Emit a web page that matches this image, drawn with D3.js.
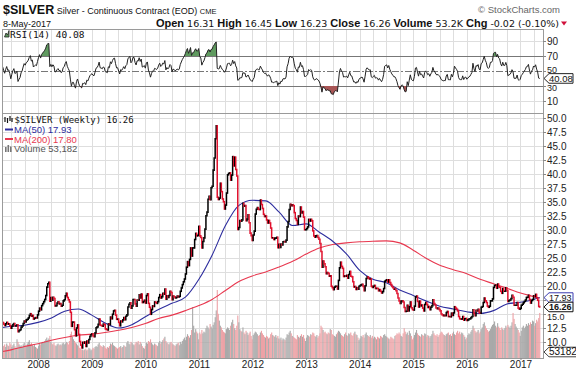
<!DOCTYPE html>
<html>
<head>
<meta charset="utf-8">
<script src="https://cdn.jsdelivr.net/npm/d3@7"></script>
<style>
body { margin: 0; background: #fff; }
svg { display: block; }
</style>
</head>
<body>
<div id="chart"></div>
<script>
// weekly closes (Friday), May 2007 .. May 2017
const closeHistory = [12.95, 13.05, 13.25, 13.40, 13.75, 13.90, 14.20, 14.15, 13.20, 13.05, 13.25, 13.30, 13.35, 13.60, 13.85, 13.75, 13.55];
const close2007 = [13.45,13.20,12.95,13.25, 13.50,13.20,13.25,12.95,12.45, 12.80,13.10,13.30,12.85, 12.90,13.05,11.85,12.05,12.20, 12.65,12.85,13.30,13.75, 13.60,13.95,14.05,14.30, 14.75,15.05,14.60,14.75,14.10, 14.25,14.35,14.30,14.85];
const close2008 = [15.50,16.05,15.75,16.50, 16.85,17.20,17.60,18.30,19.80, 20.40,20.65,17.30,17.95, 17.45,18.00,17.75,16.45, 16.50,16.95,17.20,16.80,16.85, 16.40,16.55,17.35,17.55, 18.25,18.70,17.95,17.55, 17.15,15.30,12.80,13.55,13.55, 12.20,11.10,12.50,13.05, 11.35,10.10,9.45,8.95,9.95, 9.80,10.00,9.20,10.15, 9.85,10.45,11.00,11.30];
const close2009 = [11.45,11.10,10.95,11.65,12.55, 12.70,13.15,14.10,13.00, 12.95,12.80,13.20,13.10, 12.35,12.25,12.15,13.25, 13.10,14.45,14.15,14.95,15.55, 15.65,14.80,14.05,14.10, 13.50,12.90,13.75,13.60,13.95, 14.35,14.00,14.60,14.85, 16.25,16.75,17.00,16.05, 16.45,17.60,17.60,16.80,16.40, 17.50,17.45,18.45,17.85, 18.55,17.05,17.20,17.45];
const close2010 = [16.95,18.30,18.60,16.90,16.20, 14.95,15.80,16.45,16.35, 17.15,17.05,16.90,17.20, 17.95,18.45,17.85,18.10,18.70, 18.55,19.45,17.65,18.25, 17.95,18.30,19.05,18.85, 17.55,18.20,18.05,17.85,17.95, 18.20,18.05,18.15,19.05, 19.65,20.25,20.75,21.25, 22.15,23.35,24.35,23.65,24.75, 26.80,25.35,26.80,26.80, 28.30,29.40,28.95,29.05,30.65];
const close2011 = [28.95,28.65,26.80,27.95, 28.60,30.15,32.55,33.20, 35.50,36.00,35.40,37.55, 37.80,40.70,42.85,46.30,48.60, 35.85,35.45,35.70,38.35, 36.85,35.55,35.05,33.75, 34.45,36.60,39.85,40.10,40.20, 38.90,39.80,43.10,41.45, 43.00,40.80,39.65,30.10,30.45, 31.70,31.55,31.80,34.75, 34.25,34.35,31.65,31.95, 32.70,31.30,29.45,29.00,28.15];
const close2012 = [29.10,29.80,32.85,33.70, 34.00,33.70,33.65,35.35, 34.55,33.85,32.80,32.40,32.50, 31.80,31.25,31.70,31.25, 30.35,28.60,28.60,28.30, 28.55,28.55,28.70,26.85,27.45, 26.90,27.50,27.35,27.90, 27.95,27.85,28.20,30.55,31.50, 33.65,34.60,34.35,34.50, 34.35,33.10,32.05,31.70, 31.00,32.50,32.40,34.10,33.05, 33.30,32.30,30.05,30.05];
const close2013 = [30.25,30.55,31.90,31.60, 31.90,31.65,29.85,28.95, 28.70,28.95,29.00,28.65,28.35, 27.60,26.15,23.35,24.45, 23.95,23.45,22.20,22.40,22.25, 21.75,21.80,19.95,19.70, 19.35,19.80,19.95,19.95, 19.45,21.00,23.25,24.25,23.50, 23.15,21.70,21.80,21.75, 21.90,21.40,22.05,22.60, 21.75,21.65,20.75,19.85,19.90, 19.40,19.70,19.45,19.95];
const close2014 = [20.10,20.20,20.30,19.90,19.15, 20.05,21.35,21.65,21.40, 21.25,21.30,19.95,19.75, 19.95,20.10,19.55,19.60, 19.55,19.15,19.35,19.05,18.75, 19.00,19.55,20.85,21.00, 21.10,20.70,21.10,20.60, 20.25,19.90,19.70,19.45,19.45, 19.15,18.65,17.85,17.35, 16.90,17.25,17.35,17.15,16.15, 15.45,15.50,16.55,15.55, 16.30,17.15,16.10,15.80];
const close2015 = [15.70,16.40,18.05,18.20,17.25, 16.25,17.30,16.45,16.60, 16.05,15.55,16.70,17.05, 16.70,16.15,16.35,15.75, 16.20,16.50,17.55,16.85,16.60, 16.10,15.95,16.05,15.80, 15.55,15.00,14.85,14.70,14.75, 14.70,15.25,15.45,14.55, 14.55,14.50,15.15,14.75, 15.20,16.30,16.05,15.85,15.55, 14.55,14.15,14.10,14.10, 14.55,13.90,14.15,14.20];
const close2016 = [13.85,13.95,14.10,14.15,14.35, 14.55,15.75,15.10,14.70, 15.65,15.55,15.85,15.25, 15.15,16.20,16.35,17.05,17.85, 17.35,17.05,16.40,16.20, 16.40,17.35,17.35,17.70, 19.75,20.10,20.15,19.60,20.35, 19.85,19.75,19.05,18.70, 19.55,19.05,19.05,19.70,19.20, 17.25,17.40,17.50,17.75, 18.35,18.00,16.55,16.55, 16.55,17.05,16.05,15.85,16.00];
const close2017 = [16.55,16.75,17.00,17.25, 17.50,17.95,18.00,18.35, 17.60,16.95,17.40,17.60,18.25, 18.10,18.50,17.90,17.45, 16.34,16.26];

// weekly volume (thousands)
const vol2007 = [15,14,16,13,17,15,14,18,16,13,15,17,14,12,22,19,16,14,15,13,16,18,15,14,17,19,21,16,18,15,14,16,13,12,11];
const vol2008 = [14,17,16,18,19,18,20,22,24,21,23,26,19,17,16,18,15,14,16,17,15,16,15,17,18,16,17,19,18,16,20,28,31,25,22,20,18,17,15,14,12,11,10,10,9,10,11,9,10,12,11,9];
const vol2009 = [10,12,11,13,14,13,16,18,15,14,13,15,14,12,11,13,12,14,17,16,18,15,14,13,12,11,12,13,14,12,13,15,14,13,18,20,17,16,19,18,16,15,17,19,18,20,16,19,17,14,12,11];
const vol2010 = [14,18,17,20,19,22,18,16,15,17,16,15,14,18,20,17,19,21,23,25,20,18,17,16,18,19,17,16,15,14,16,17,18,15,19,17,20,22,24,21,25,28,26,24,27,33,60,38,30,34,31,29,22];
const vol2011 = [30,28,33,29,31,30,35,38,36,34,40,37,35,39,42,48,56,80,52,44,38,36,33,31,30,29,34,36,35,33,38,42,45,40,35,33,38,50,42,34,32,31,36,30,28,32,30,27,29,31,26,22];
const vol2012 = [27,29,31,30,28,26,27,30,32,29,27,25,24,26,25,23,24,28,30,27,26,25,27,24,26,23,22,24,21,23,22,21,24,28,27,30,32,29,26,25,24,23,22,27,25,24,26,28,25,27,23,20];
const vol2013 = [24,27,26,25,28,27,30,29,26,25,27,24,26,29,38,36,33,30,31,29,28,30,29,34,33,28,27,26,25,28,30,32,31,29,27,26,25,28,30,27,26,29,28,30,27,26,29,31,28,27,24,21];
const vol2014 = [23,26,25,27,24,28,30,27,26,25,27,24,26,23,25,24,22,25,24,23,26,25,24,27,28,26,25,24,23,22,25,24,23,22,26,27,29,28,30,28,26,25,29,35,31,28,30,27,32,29,26,22];
const vol2015 = [24,27,30,33,29,27,26,25,28,27,26,29,28,25,27,26,24,26,28,32,29,27,26,28,25,27,29,31,30,28,27,26,28,29,30,27,28,26,29,31,28,27,30,32,29,31,28,30,29,27,25,22];
const vol2016 = [24,27,29,28,31,33,38,35,32,30,31,33,29,31,34,36,40,42,38,35,33,31,32,34,37,39,40,43,38,36,41,37,35,33,36,34,33,35,38,36,39,37,35,38,42,53,46,40,37,35,33,30,26];
const vol2017 = [32,36,38,35,37,40,38,41,39,42,40,44,43,38,41,45,43,47,53];

// moving averages at quarter points
const maDates = ["2007-05-04","2007-07-01","2007-10-01","2008-01-01","2008-04-01","2008-07-01","2008-10-01","2009-01-01","2009-04-01","2009-07-01","2009-10-01","2010-01-01","2010-04-01","2010-07-01","2010-10-01","2011-01-01","2011-04-01","2011-07-01","2011-10-01","2012-01-01","2012-04-01","2012-07-01","2012-10-01","2013-01-01","2013-04-01","2013-07-01","2013-10-01","2014-01-01","2014-04-01","2014-07-01","2014-10-01","2015-01-01","2015-04-01","2015-07-01","2015-10-01","2016-01-01","2016-04-01","2016-07-01","2016-10-01","2017-01-01","2017-04-01","2017-05-12"];
const ma50 = [12.6,12.8,13.0,13.5,14.3,15.5,15.9,14.8,13.4,12.5,13.1,14.5,15.8,16.9,18.0,21.2,25.5,30.8,34.4,35.3,35.2,33.2,30.8,31.1,29.6,28.0,25.8,22.8,21.2,20.6,19.3,18.3,17.3,16.4,15.9,15.4,15.1,15.6,16.8,17.1,17.6,17.93];
const ma200 = [8.3,8.6,9.2,9.7,10.3,10.8,11.2,11.4,11.7,12.1,12.6,13.3,14.2,14.8,15.6,16.5,17.6,19.2,20.8,21.8,22.5,23.4,24.4,25.7,26.8,27.4,27.7,27.9,28.0,28.05,27.7,26.4,24.9,23.7,22.9,22.2,21.2,20.4,19.6,18.75,18.1,17.80];

const priceTicks = [10, 12.5, 15, 17.5, 20, 22.5, 25, 27.5, 30, 32.5, 35, 37.5, 40, 42.5, 45, 47.5, 50];
const rsiTicks = [10, 30, 50, 70, 90];
const yearTicks = ["2008","2009","2010","2011","2012","2013","2014","2015","2016","2017"];
const quote = [["Open", "16.31"], ["High", "16.45"], ["Low", "16.23"], ["Close", "16.26"], ["Volume", "53.2K"], ["Chg", "-0.02 (-0.10%)"]];
const lastPrice = 16.26, lastMa50 = 17.93, lastRsi = 40.08;

const width = 576, height = 370;
const left = 2, right = 543;
const rsiTop = 29, rsiBottom = 113, mainTop = 113, mainBottom = 358;
const sans = "'Liberation Sans', Arial, sans-serif";
const wide = "'DejaVu Sans', Verdana, sans-serif";
const mono = "'DejaVu Sans Mono', monospace";

const closes = [].concat(close2007, close2008, close2009, close2010, close2011, close2012, close2013, close2014, close2015, close2016, close2017);
const volumes = [].concat(vol2007, vol2008, vol2009, vol2010, vol2011, vol2012, vol2013, vol2014, vol2015, vol2016, vol2017);
const weeks = d3.timeFriday.range(new Date(2007, 4, 4), new Date(2017, 4, 13));

const bars = closes.map((c, i) => {
    const open = i ? closes[i - 1] : closeHistory[closeHistory.length - 1];
    return {date: weeks[i], open: open, close: c, up: c >= open, volume: volumes[i]};
});

// RSI(14), Wilder smoothing
function rsi(values, n) {
    const out = [null];
    let gain = 0, loss = 0;
    for (let i = 1; i < values.length; i++) {
        const d = values[i] - values[i - 1];
        const g = Math.max(d, 0), l = Math.max(-d, 0);
        if (i <= n) { gain += g / n; loss += l / n; }
        else { gain = (gain * (n - 1) + g) / n; loss = (loss * (n - 1) + l) / n; }
        out.push(i >= n ? 100 - 100 / (1 + gain / loss) : null);
    }
    return out;
}
const rsiAll = rsi(closeHistory.concat(closes), 14);
const rsiData = rsiAll.slice(closeHistory.length).map((v, i) => ({date: weeks[i], value: v}));

const parse = d3.timeParse("%Y-%m-%d");
const maData = maDates.map((d, i) => ({date: parse(d), ma50: ma50[i], ma200: ma200[i]}));

const x = d3.scaleTime()
    .domain([new Date(2007, 3, 30), new Date(2017, 4, 14)])
    .range([left, 540]);
const y = d3.scaleLinear().domain([10, 50]).range([342, 118]);
const yRsi = d3.scaleLinear().domain([0, 100]).range([108.5, 33.5]);
const yVol = d3.scaleLinear().domain([0, 80]).range([mainBottom, 290]);

const svg = d3.select("#chart").append("svg")
    .attr("width", width)
    .attr("height", height)
    .attr("viewBox", [0, 0, width, height]);

const defs = svg.append("defs");
defs.append("clipPath").attr("id", "clipMain")
    .append("rect").attr("x", left).attr("y", mainTop).attr("width", right - left).attr("height", mainBottom - mainTop);
defs.append("clipPath").attr("id", "clipRsi")
    .append("rect").attr("x", left).attr("y", rsiTop).attr("width", right - left).attr("height", rsiBottom - rsiTop);
defs.append("clipPath").attr("id", "clipOver")
    .append("rect").attr("x", left).attr("y", rsiTop).attr("width", right - left).attr("height", yRsi(70) - rsiTop);
defs.append("clipPath").attr("id", "clipUnder")
    .append("rect").attr("x", left).attr("y", yRsi(30)).attr("width", right - left).attr("height", rsiBottom - yRsi(30));

// header
const head = svg.append("text").attr("x", 3).attr("y", 14).attr("font-family", sans).attr("fill", "#111");
head.append("tspan").attr("font-weight", "bold").attr("font-size", 12.5).text("$SILVER");
head.append("tspan").attr("font-size", 9).text(" Silver - Continuous Contract (EOD) ");
head.append("tspan").attr("font-size", 7.5).text("CME");

svg.append("text").attr("x", 560).attr("y", 13).attr("text-anchor", "end")
    .attr("font-family", sans).attr("font-size", 9.5).attr("fill", "#666")
    .text("\u00a9 StockCharts.com");

svg.append("text").attr("x", 3).attr("y", 26.5)
    .attr("font-family", sans).attr("font-size", 9).attr("fill", "#111")
    .text("8-May-2017");

const q = svg.append("text").attr("x", 559).attr("y", 26.5).attr("text-anchor", "end")
    .attr("font-family", wide).attr("font-size", 9.5).attr("fill", "#111");
quote.forEach(([k, v], i) => {
    q.append("tspan").attr("font-weight", "bold").attr("font-family", sans).attr("font-size", 11).text((i ? " " : "") + k);
    q.append("tspan").text(" " + v);
});
svg.append("path").attr("d", "M561,21.5 L567,21.5 L564,25.5 Z").attr("fill", "#d0103a");

// grid
const grid = svg.append("g").attr("shape-rendering", "crispEdges");
const quarters = d3.timeMonth.every(3).range(x.domain()[0], x.domain()[1]);
grid.selectAll("line.v").data(quarters).join("line")
    .attr("class", "v")
    .attr("x1", d => Math.round(x(d)) + 0.5).attr("x2", d => Math.round(x(d)) + 0.5)
    .attr("y1", rsiTop).attr("y2", mainBottom)
    .attr("stroke", "#dedede");
grid.selectAll("line.h").data(priceTicks).join("line")
    .attr("class", "h")
    .attr("x1", left).attr("x2", right)
    .attr("y1", d => Math.round(y(d)) + 0.5).attr("y2", d => Math.round(y(d)) + 0.5)
    .attr("stroke", "#dedede");
grid.selectAll("line.r").data(rsiTicks.filter(d => d === 10 || d === 90)).join("line")
    .attr("class", "r")
    .attr("x1", left).attr("x2", right)
    .attr("y1", d => Math.round(yRsi(d)) + 0.5).attr("y2", d => Math.round(yRsi(d)) + 0.5)
    .attr("stroke", "#dedede");
grid.selectAll("line.b").data([30, 70]).join("line")
    .attr("class", "b")
    .attr("x1", left).attr("x2", right)
    .attr("y1", d => Math.round(yRsi(d)) + 0.5).attr("y2", d => Math.round(yRsi(d)) + 0.5)
    .attr("stroke", "#777");
grid.append("line")
    .attr("x1", left).attr("x2", right)
    .attr("y1", Math.round(yRsi(50)) + 0.5).attr("y2", Math.round(yRsi(50)) + 0.5)
    .attr("stroke", "#777").attr("stroke-dasharray", "7,2,2,2");

// RSI
const rsiG = svg.append("g").attr("clip-path", "url(#clipRsi)");
const rsiValid = rsiData.filter(d => d.value != null);
rsiG.append("path").datum(rsiValid)
    .attr("clip-path", "url(#clipOver)")
    .attr("fill", "#5f9a5f")
    .attr("d", d3.area().x(d => x(d.date)).y0(yRsi(70)).y1(d => yRsi(d.value)));
rsiG.append("path").datum(rsiValid)
    .attr("clip-path", "url(#clipUnder)")
    .attr("fill", "#a85555")
    .attr("d", d3.area().x(d => x(d.date)).y0(yRsi(30)).y1(d => yRsi(d.value)));
rsiG.append("path").datum(rsiValid)
    .attr("fill", "none").attr("stroke", "#222").attr("stroke-width", 1)
    .attr("d", d3.line().x(d => x(d.date)).y(d => yRsi(d.value)));

// main panel: volume, moving averages, price bars
const main = svg.append("g").attr("clip-path", "url(#clipMain)");
main.append("g").selectAll("rect").data(bars).join("rect")
    .attr("x", d => x(d.date) - 0.5)
    .attr("width", 1.1)
    .attr("y", d => yVol(d.volume))
    .attr("height", d => mainBottom - yVol(d.volume))
    .attr("fill", d => d.up ? "#a9a9a9" : "#eda2a6");

main.append("path").datum(maData)
    .attr("fill", "none").attr("stroke", "#e8384f").attr("stroke-width", 1.1)
    .attr("d", d3.line().curve(d3.curveMonotoneX).x(d => x(d.date)).y(d => y(d.ma200)));
main.append("path").datum(maData)
    .attr("fill", "none").attr("stroke", "#2d2d9e").attr("stroke-width", 1.1)
    .attr("d", d3.line().curve(d3.curveMonotoneX).x(d => x(d.date)).y(d => y(d.ma50)));

main.append("g").selectAll("line").data(bars).join("line")
    .attr("x1", d => x(d.date)).attr("x2", d => x(d.date))
    .attr("y1", d => y(Math.max(d.open, d.close)) - 0.8)
    .attr("y2", d => y(Math.min(d.open, d.close)) + 0.8)
    .attr("stroke", d => d.up ? "#000" : "#e0102c")
    .attr("stroke-width", 1.5);

// panel borders
svg.append("g").attr("fill", "none").attr("stroke", "#9a9a9a").attr("shape-rendering", "crispEdges")
    .selectAll("rect").data([[rsiTop, rsiBottom], [mainTop, mainBottom]]).join("rect")
    .attr("x", left + 0.5).attr("y", d => d[0] + 0.5)
    .attr("width", right - left).attr("height", d => d[1] - d[0]);

// axes
const axisPrice = svg.append("g")
    .attr("transform", `translate(${right},0)`)
    .call(d3.axisRight(y).tickValues(priceTicks).tickFormat(d3.format(".1f")).tickSize(3).tickPadding(1));
const axisRsi = svg.append("g")
    .attr("transform", `translate(${right},0)`)
    .call(d3.axisRight(yRsi).tickValues(rsiTicks).tickSize(3).tickPadding(1));
const axisX = svg.append("g")
    .attr("transform", `translate(0,${mainBottom})`)
    .call(d3.axisBottom(x)
        .tickValues(yearTicks.map(t => new Date(+t, 0, 1)))
        .tickFormat((d, i) => yearTicks[i])
        .tickSize(2).tickPadding(1));
[axisPrice, axisRsi, axisX].forEach(g => {
    g.select(".domain").remove();
    g.selectAll("line").attr("stroke", "#888");
    g.selectAll("text").attr("font-family", sans).attr("font-size", 10).attr("fill", "#222");
});
// a price label that lies fully under the value tags is hidden, as in the original
const tagCentres = [y(lastMa50), y(lastPrice)];
axisPrice.selectAll(".tick text")
    .filter(d => tagCentres.some(c => Math.abs(y(d) - c) < 5))
    .remove();
axisPrice.selectAll(".tick text")
    .filter(d => tagCentres.some(c => Math.abs(y(d) - c) < 9))
    .attr("font-size", 9).attr("dy", "0.6em");
// the RSI labels next to the RSI tag sit just clear of it
axisRsi.selectAll(".tick text")
    .filter(d => Math.abs(yRsi(d) - yRsi(lastRsi)) < 10)
    .attr("font-size", 9)
    .attr("dy", d => yRsi(d) < yRsi(lastRsi) ? "0.15em" : "0.5em");

// value tags on the right
function tag(yc, label, stroke, bold, w, size) {
    const g = svg.append("g");
    g.append("path")
        .attr("d", `M${right + 1},${yc} L${right + 6},${yc - 4.8} H${right + w} V${yc + 4.8} H${right + 6} Z`)
        .attr("fill", "#fff").attr("stroke", stroke).attr("stroke-width", 1);
    g.append("text").attr("x", right + 6).attr("y", yc + 3.2)
        .attr("font-family", sans).attr("font-size", size)
        .attr("font-weight", bold ? "bold" : "normal").attr("fill", "#111")
        .text(label);
}
tag(yRsi(lastRsi), "40.08", "#222", false, 30, 9.5);
tag(y(lastMa50), "17.93", "#3a3ab0", false, 30, 9);
tag(y(lastPrice), "16.26", "#111", true, 30, 9);
tag(352, "53182.0", "#444", false, 45, 10);

// legends
function legendText(xp, yp, txt, color, family, size) {
    svg.append("text").attr("x", xp).attr("y", yp)
        .attr("font-family", family).attr("font-size", size).attr("fill", color)
        .text(txt);
}
svg.append("path").attr("d", "M4.5,37 L6,33 L7.5,35 L9,30.5 L9,37 Z")
    .attr("fill", "#5f9a5f").attr("stroke", "#222").attr("stroke-width", 0.8);
legendText(10, 38, "RSI(14) 40.08", "#111", mono, 9.5);

svg.append("g").attr("stroke", "#111").attr("stroke-width", 1.2)
    .selectAll("line").data([[5, 117, 122], [7.5, 118, 123], [10, 116, 121], [12, 118, 122]]).join("line")
    .attr("x1", d => d[0]).attr("x2", d => d[0]).attr("y1", d => d[1]).attr("y2", d => d[2]);
legendText(14.5, 123, "$SILVER (Weekly) 16.26", "#111", mono, 9);

svg.append("line").attr("x1", 5).attr("x2", 13).attr("y1", 129.5).attr("y2", 129.5).attr("stroke", "#2d2d9e").attr("stroke-width", 2);
legendText(14, 133, "MA(50) 17.93", "#2d2d9e", sans, 9.5);
svg.append("line").attr("x1", 5).attr("x2", 13).attr("y1", 139).attr("y2", 139).attr("stroke", "#e8384f").attr("stroke-width", 2);
legendText(14, 142.5, "MA(200) 17.80", "#e8384f", sans, 9.5);
svg.append("g").attr("fill", "#777")
    .selectAll("rect").data([[5, 147], [7.5, 145], [10, 146.5]]).join("rect")
    .attr("x", d => d[0]).attr("y", d => d[1]).attr("width", 1.6).attr("height", d => 152 - d[1]);
legendText(14, 152, "Volume 53,182", "#555", sans, 9.5);
</script>
</body>
</html>
